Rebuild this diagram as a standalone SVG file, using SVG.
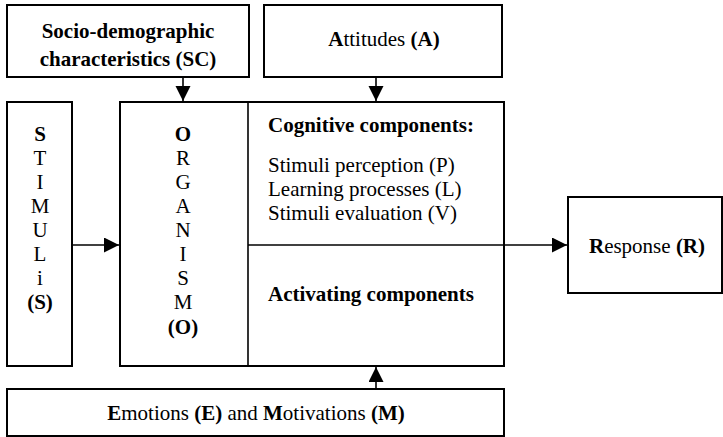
<svg xmlns="http://www.w3.org/2000/svg" width="723" height="437" viewBox="0 0 723 437">
<defs>
<style>
.box{fill:#fff;stroke:#000;stroke-width:2}
.ln{fill:none;stroke:#000;stroke-width:1.6}
text{font-family:"Liberation Serif","Times New Roman",serif;font-size:21px;fill:#000}
.b{font-weight:bold}
.c{text-anchor:middle}
.col{font-size:21px;text-anchor:middle}
</style>
<marker id="ah" markerUnits="userSpaceOnUse" markerWidth="16" markerHeight="16" refX="15" refY="7.5" orient="auto">
<path d="M0,0 L15,7.5 L0,15 z" fill="#000"/>
</marker>
</defs>
<rect width="723" height="437" fill="#fff"/>

<g id="sc">
<rect class="box" x="7" y="5" width="242" height="72"/>
<text class="b c" x="128" y="38">Socio-demographic</text>
<text class="b c" x="128" y="66">characteristics (SC)</text>
</g>

<g id="attitudes">
<rect class="box" x="264" y="5" width="238" height="72"/>
<text class="c" x="384" y="46"><tspan class="b">A</tspan>ttitudes <tspan class="b">(A)</tspan></text>
</g>

<g id="stimuli">
<rect class="box" x="7" y="102" width="65" height="264"/>
<text class="col b" x="40" y="141">S</text>
<text class="col" x="40" y="165">T</text>
<text class="col" x="40" y="189">I</text>
<text class="col" x="40" y="213">M</text>
<text class="col" x="40" y="237">U</text>
<text class="col" x="40" y="261">L</text>
<text class="col" x="40" y="285">i</text>
<text class="col b" x="40" y="309">(S)</text>
</g>

<g id="organism">
<rect class="box" x="120" y="102" width="384" height="264"/>
<line class="ln" x1="248" y1="102" x2="248" y2="366"/>
<text class="col b" x="183" y="141">O</text>
<text class="col" x="183" y="165">R</text>
<text class="col" x="183" y="189">G</text>
<text class="col" x="183" y="213">A</text>
<text class="col" x="183" y="237">N</text>
<text class="col" x="183" y="261">I</text>
<text class="col" x="183" y="285">S</text>
<text class="col" x="183" y="309">M</text>
<text class="col b" x="183" y="334">(O)</text>
</g>

<g id="cognitive">
<text class="b" x="268" y="132">Cognitive components:</text>
<text x="268" y="172">Stimuli perception (P)</text>
<text x="268" y="196">Learning processes (L)</text>
<text x="268" y="220">Stimuli evaluation (V)</text>
</g>

<g id="activating">
<text class="b" x="268" y="301">Activating components</text>
</g>

<g id="response">
<rect class="box" x="568" y="197" width="154" height="96"/>
<text class="c" x="647" y="253"><tspan class="b">R</tspan>esponse <tspan class="b">(R)</tspan></text>
</g>

<g id="emotions">
<rect class="box" x="7" y="389" width="497" height="47"/>
<text class="c" x="256" y="420"><tspan class="b">E</tspan>motions <tspan class="b">(E)</tspan> and <tspan class="b">M</tspan>otivations <tspan class="b">(M)</tspan></text>
</g>

<g id="connectors">
<line class="ln" x1="183" y1="77" x2="183" y2="101" marker-end="url(#ah)"/>
<line class="ln" x1="376" y1="77" x2="376" y2="101" marker-end="url(#ah)"/>
<line class="ln" x1="72" y1="245" x2="119" y2="245" marker-end="url(#ah)"/>
<line class="ln" x1="248" y1="245" x2="567" y2="245" marker-end="url(#ah)"/>
<line class="ln" x1="376" y1="389" x2="376" y2="367" marker-end="url(#ah)"/>
</g>
</svg>
